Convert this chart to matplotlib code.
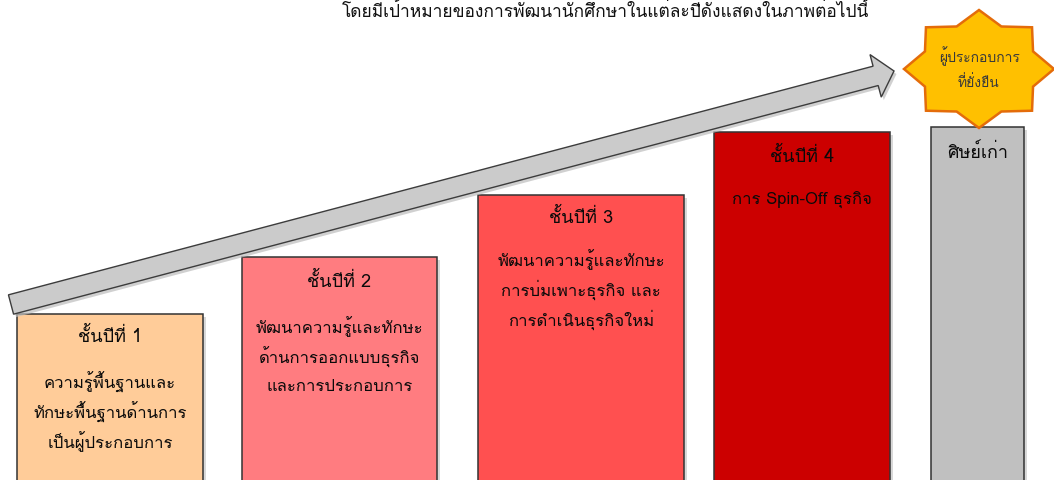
import matplotlib
matplotlib.use("Agg")
import matplotlib.pyplot as plt
from matplotlib import font_manager
from matplotlib.ft2font import FT2Font
from matplotlib.patches import Rectangle, Polygon
import numpy as np

# ---- pick an installed font that has Thai glyphs ----
def thai_fonts():
    found = []
    for f in font_manager.fontManager.ttflist:
        try:
            cm = FT2Font(f.fname).get_charmap()
        except Exception:
            continue
        if 0x0E01 in cm and 0x0E34 in cm:
            if f.name not in found:
                found.append(f.name)
    return found

tf = thai_fonts()
plt.rcParams['font.family'] = tf + ['DejaVu Sans'] if tf else ['DejaVu Sans']

# ---- content ----
title_text = "โดยมีเป้าหมายของการพัฒนานักศึกษาในแต่ละปีดังแสดงในภาพต่อไปนี้"
stage_titles = ["ชั้นปีที่ 1", "ชั้นปีที่ 2", "ชั้นปีที่ 3", "ชั้นปีที่ 4", "ศิษย์เก่า"]
stage_bodies = [
    ["ความรู้พื้นฐานและ", "ทักษะพื้นฐานด้านการ", "เป็นผู้ประกอบการ"],
    ["พัฒนาความรู้และทักษะ", "ด้านการออกแบบธุรกิจ", "และการประกอบการ"],
    ["พัฒนาความรู้และทักษะ", "การบ่มเพาะธุรกิจ และ", "การดำเนินธุรกิจใหม่"],
    ["การ Spin-Off ธุรกิจ"],
    [],
]
star_text = ["ผู้ประกอบการ", "ที่ยั่งยืน"]

# ---- layout (pixel canvas) ----
box_left = [17, 242, 478, 714, 931]
box_right = [203, 437, 684, 890, 1024]
box_top = [314, 257, 195, 132, 127]
box_colors = ["#FFCC99", "#FF7C80", "#FF5050", "#CC0000", "#C0C0C0"]
title_offset = [22, 24, 22, 24, 26]
body_offset = [68, 70, 65, 68, 0]
line_gap = 30

W, H = 1054, 480
fig = plt.figure(figsize=(W / 100, H / 100), dpi=100)
ax = fig.add_axes([0, 0, 1, 1])
ax.set_xlim(0, W)
ax.set_ylim(H, 0)
ax.axis("off")

# header text (at the very top)
ax.text(605, 11, title_text, ha="center", va="center", fontsize=12.5, color="#111111")

# boxes
for i in range(5):
    l, r, t = box_left[i], box_right[i], box_top[i]
    ax.add_patch(Rectangle((l + 3, t + 3), r - l, H - t + 10, facecolor="#d8d8d8",
                           edgecolor="none", zorder=1))
    ax.add_patch(Rectangle((l, t), r - l, H - t + 10, facecolor=box_colors[i],
                           edgecolor="#333333", lw=1.1, zorder=2))
    cx = (l + r) / 2
    ax.text(cx, t + title_offset[i], stage_titles[i], ha="center", va="center",
            fontsize=13, color="#0a0a0a", zorder=3)
    for j, line in enumerate(stage_bodies[i]):
        ax.text(cx, t + body_offset[i] + j * line_gap, line, ha="center", va="center",
                fontsize=12, color="#0a0a0a", zorder=3)

# arrow
tail = np.array([11.0, 304.5])
tip = np.array([894.0, 71.0])
u = (tip - tail) / np.linalg.norm(tip - tail)
n = np.array([-u[1], u[0]])
sw, hw, hl = 10.0, 22.0, 19.0
base = tip - hl * u
pts = [tail + sw * n, base + sw * n, base + hw * n, tip, base - hw * n, base - sw * n, tail - sw * n]
shadow = [p + np.array([2.5, 3.0]) for p in pts]
ax.add_patch(Polygon(shadow, closed=True, facecolor="#bdbdbd", edgecolor="none", zorder=4, alpha=0.7))
ax.add_patch(Polygon(pts, closed=True, facecolor="#CBCBCB", edgecolor="#3c3c3c", lw=1.0, zorder=5))

# star
cx, cy, rx, ry = 979, 69, 75, 59
k = 8
inner = 0.78
ang = np.pi / 2 + np.arange(2 * k) * np.pi / k
rad = np.where(np.arange(2 * k) % 2 == 0, 1.0, inner)
star = np.column_stack([cx + rx * rad * np.cos(ang), cy - ry * rad * np.sin(ang)])
ax.add_patch(Polygon(star, closed=True, facecolor="#FFC000", edgecolor="#E46C0A", lw=1.8, zorder=6))
for j, line in enumerate(star_text):
    ax.text(cx, 56 + j * 27, line, ha="center", va="center", fontsize=10,
            color="#3a3a3a", zorder=7)

fig.savefig("out.png", dpi=100)
